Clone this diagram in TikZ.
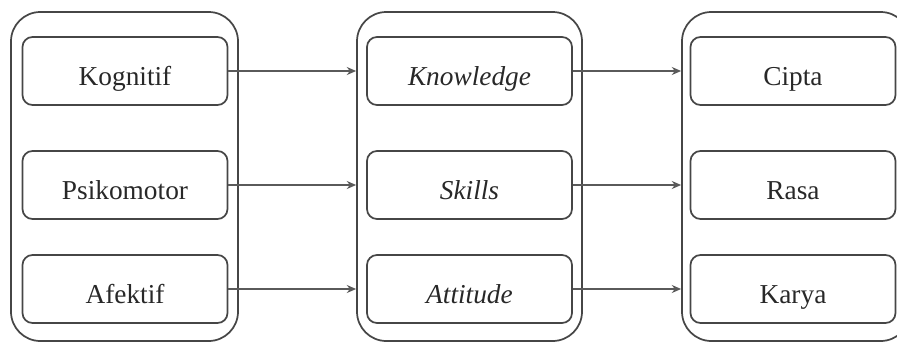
\documentclass[tikz,border=0pt]{standalone}
\usepackage{fontspec}
\setmainfont{Liberation Serif}
\usetikzlibrary{arrows.meta,fit}

\tikzset{every picture/.style={line width=0.75pt}}
\tikzset{
  kotak/.style={draw={rgb,255:red,70;green,70;blue,70}, line width=1.3pt, rounded corners=7.5pt,
    minimum width=153.75pt, minimum height=51pt, text height=23pt, text depth=2pt,
    font=\fontsize{20.5}{24}\selectfont, text={rgb,255:red,40;green,40;blue,40}},
  wadah/.style={draw={rgb,255:red,70;green,70;blue,70}, line width=1.3pt, rounded corners=22pt, inner sep=0pt},
  panah/.style={draw={rgb,255:red,90;green,90;blue,90}, line width=1.1pt, -{Stealth[length=7pt,width=6pt]}}
}

\begin{document}
\begin{tikzpicture}[x=0.75pt,y=0.75pt,yscale=-1,xscale=1]
\useasboundingbox (0,0) rectangle (897,343);

%Outer containers
\node [wadah, fit={(11,12) (238,341)}] (kiri) {};
\node [wadah, fit={(357,12) (582,341)}] (tengah) {};
\node [wadah, fit={(682,12) (910,341)}] (kanan) {};

%Left column
\node [kotak] (kog) at (125,71) {Kognitif};
\node [kotak] (psi) at (125,185) {Psikomotor};
\node [kotak] (afe) at (125,289) {Afektif};

%Middle column
\node [kotak] (kno) at (469.5,71) {\itshape Knowledge};
\node [kotak] (ski) at (469.5,185) {\itshape Skills};
\node [kotak] (att) at (469.5,289) {\itshape Attitude};

%Right column
\node [kotak] (cip) at (793,71) {Cipta};
\node [kotak] (ras) at (793,185) {Rasa};
\node [kotak] (kar) at (793,289) {Karya};

%Connectors
\draw [panah] (kog.east) -- (kog.east -| tengah.west);
\draw [panah] (psi.east) -- (psi.east -| tengah.west);
\draw [panah] (afe.east) -- (afe.east -| tengah.west);
\draw [panah] (kno.east) -- (kno.east -| kanan.west);
\draw [panah] (ski.east) -- (ski.east -| kanan.west);
\draw [panah] (att.east) -- (att.east -| kanan.west);

\end{tikzpicture}
\end{document}
